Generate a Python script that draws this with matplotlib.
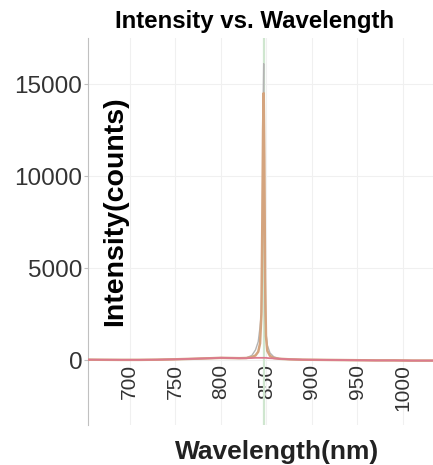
import matplotlib

matplotlib.use('Agg')
import matplotlib.pyplot as plt

plt.rcParams['font.family'] = ['Liberation Sans', 'DejaVu Sans']

# Данные спектра
wavelength = [655, 670, 690, 710, 730, 750, 770, 790, 800, 810, 820, 828, 834,
              838, 841, 843, 844.5, 845.5, 846.3, 847, 847.7, 848.5, 849.5,
              851, 854, 858, 864, 875, 890, 910, 930, 950, 970, 990, 1010, 1035]

# базовая линия (красная)
base_counts = [20, 15, 10, 10, 20, 40, 70, 100, 120, 110, 100, 100, 110,
               120, 120, 120, 120, 120, 120, 120, 120, 120, 120,
               110, 100, 90, 70, 40, 20, 10, 0, -10, -20, -20, -30, -30]

# основной пик (оранжевый)
peak_counts = [20, 15, 10, 10, 20, 40, 70, 100, 120, 110, 100, 110, 160,
               250, 450, 900, 2500, 7500, 12500, 14500, 11000, 4500, 1300,
               500, 220, 110, 70, 40, 20, 10, 0, -10, -20, -20, -30, -30]

# опорный пик (серый)
ref_counts = [20, 15, 10, 10, 20, 40, 70, 100, 120, 110, 100, 120, 250,
              550, 1000, 1800, 2600, 5500, 13500, 16100, 9000, 2800, 1500,
              800, 380, 180, 80, 40, 20, 10, 0, -10, -20, -20, -30, -30]

laser_line = 847

x_ticks = [700, 750, 800, 850, 900, 950, 1000]
y_ticks = [0, 5000, 10000, 15000]

fig = plt.figure(figsize=(4.33, 4.65), dpi=100)
ax = fig.add_axes([88 / 433, 40 / 465, 345 / 433, 387 / 465])

ax.set_xlim(654, 1033)
ax.set_ylim(-3530, 17500)

ax.grid(True, color='#f0f0f0', linewidth=0.8)
ax.set_axisbelow(True)

ax.axvline(laser_line, color='#cfe6cf', linewidth=1.6, zorder=1)
ax.plot(wavelength, ref_counts, color='#b4b4b4', linewidth=1.0, zorder=2)
ax.plot(wavelength, peak_counts, color='#d4a47e', linewidth=1.8, zorder=3)
ax.plot(wavelength, base_counts, color='#dc7a8e', linewidth=1.3, zorder=4)

# оформление осей
for side in ['top', 'right']:
    ax.spines[side].set_visible(False)
ax.spines['bottom'].set_position(('data', 0))
ax.spines['bottom'].set_visible(False)
ax.spines['left'].set_color('#c0c0c0')

ax.set_xticks(x_ticks)
ax.set_yticks(y_ticks)
ax.tick_params(axis='x', length=0, pad=3, labelsize=15, labelcolor='#333333',
               labelrotation=90)
ax.tick_params(axis='y', length=3, color='#c0c0c0', pad=1, labelsize=17.5,
               labelcolor='#333333')

ax.set_ylabel('Intensity(counts)', fontsize=20.5, fontweight='bold', va='center')
ax.yaxis.set_label_coords(0.078, 0.553)
ax.set_xlabel('Wavelength(nm)', fontsize=19, fontweight='bold', color='#222222')
ax.xaxis.set_label_coords(0.548, -0.04)

fig.text(255 / 433, 1 - 28 / 465, 'Intensity vs. Wavelength', ha='center',
         va='baseline', fontsize=17.3, fontweight='bold')

fig.savefig('out.png', dpi=100)
